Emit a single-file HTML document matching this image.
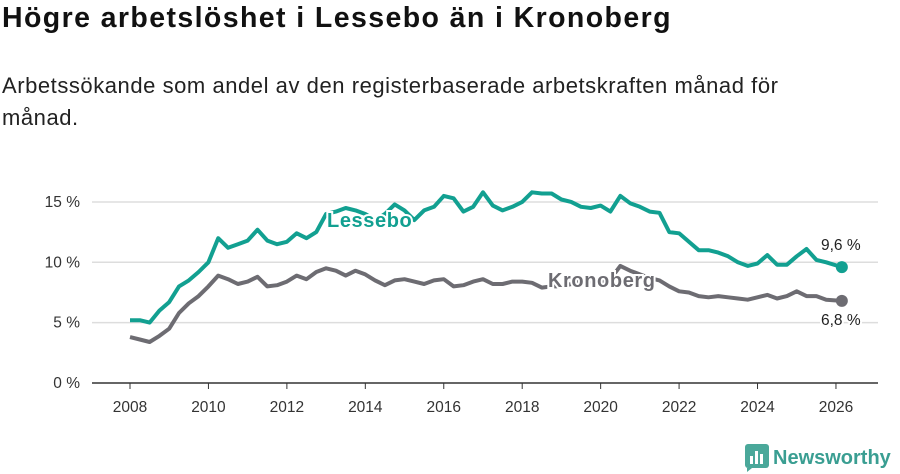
<!DOCTYPE html>
<html><head><meta charset="utf-8"><style>
body{margin:0;width:900px;height:474px;background:#fff;font-family:"Liberation Sans",sans-serif;overflow:hidden;position:relative}
h1{position:absolute;left:2px;top:2px;margin:0;font-size:28.5px;letter-spacing:1.4px;font-weight:bold;color:#111;white-space:nowrap}
p{position:absolute;left:2px;top:70px;margin:0;font-size:22px;letter-spacing:0.55px;line-height:32px;color:#222;width:840px}
svg{position:absolute;left:0;top:0}
</style></head><body>
<h1>Högre arbetslöshet i Lessebo än i Kronoberg</h1>
<p>Arbetssökande som andel av den registerbaserade arbetskraften månad för månad.</p>
<svg id="c" width="900" height="474"></svg>
<script>
const lessebo=[5.2,5.2,5.0,6.0,6.7,8.0,8.5,9.2,10.0,12.0,11.2,11.5,11.8,12.7,11.8,11.5,11.7,12.4,12.0,12.5,14.0,14.2,14.5,14.3,14.0,13.5,14.0,14.8,14.3,13.5,14.3,14.6,15.5,15.3,14.2,14.6,15.8,14.7,14.3,14.6,15.0,15.8,15.7,15.7,15.2,15.0,14.6,14.5,14.7,14.2,15.5,14.9,14.6,14.2,14.1,12.5,12.4,11.7,11.0,11.0,10.8,10.5,10.0,9.7,9.9,10.6,9.8,9.8,10.5,11.1,10.2,10.0,9.6];
const kronoberg=[3.8,3.6,3.4,3.9,4.5,5.8,6.6,7.2,8.0,8.9,8.6,8.2,8.4,8.8,8.0,8.1,8.4,8.9,8.6,9.2,9.5,9.3,8.9,9.3,9.0,8.5,8.1,8.5,8.6,8.4,8.2,8.5,8.6,8.0,8.1,8.4,8.6,8.2,8.2,8.4,8.4,8.3,7.9,8.0,8.0,8.2,8.5,8.4,8.4,8.6,9.7,9.3,9.0,8.7,8.5,8.0,7.6,7.5,7.2,7.1,7.2,7.1,7.0,6.9,7.1,7.3,7.0,7.2,7.6,7.2,7.2,6.9,6.8];
const yTicks=[0,5,10,15];
const xTicks=[2008,2010,2012,2014,2016,2018,2020,2022,2024,2026];
const endLabels=["9,6 %","6,8 %"];
const svg=document.getElementById('c');const NS='http://www.w3.org/2000/svg';
const X=t=>130+(t-2008)*39.22, Y=v=>383-v*12.07;
const dateOf=i=>i<72?2008+i/4:2026.15;
function el(tag,a,txt){const e=document.createElementNS(NS,tag);for(const k in a)e.setAttribute(k,a[k]);if(txt!=null)e.textContent=txt;svg.appendChild(e);return e;}
yTicks.forEach(v=>{
 const g=el('line',{x1:92,x2:878,y1:Y(v),y2:Y(v),stroke:v?'#dddddd':'#333','stroke-width':1.5});
 
 
 const t=el('text',{x:80,y:Y(v)+5,'text-anchor':'end','font-size':15.5,fill:'#333'},v+' %');
 
 
});
xTicks.forEach(y=>{
 const l=el('line',{x1:X(y),x2:X(y),y1:383,y2:389,stroke:'#333'});
 
 
 const t=el('text',{x:X(y),y:412,'text-anchor':'middle','font-size':15.5,fill:'#333'},y);
 
 
});
function line(data,col,name){
 const d=data.map((v,i)=>(i?'L':'M')+X(dateOf(i)).toFixed(1)+','+Y(v).toFixed(1)).join('');
 const p=el('path',{d:d,fill:'none',stroke:col,'stroke-width':4,'stroke-linejoin':'round'});
 
 
 const n=data.length-1;
 const c=el('circle',{cx:X(dateOf(n)),cy:Y(data[n]),r:6,fill:col});
 
 
}
line(kronoberg,'#6d6c72','kronoberg');
line(lessebo,'#12a091','lessebo');
function lab(x,y,txt,col,name,bold){
 const t=el('text',{x:x,y:y,'font-size':bold?20:15.5,'letter-spacing':bold?0.6:0,'font-weight':bold?'bold':'normal',fill:col,stroke:'#fff','stroke-width':4,'paint-order':'stroke'},txt);
 
 
}
lab(327,227,'Lessebo','#12a091','lessebo-label',true);
lab(548,287,'Kronoberg','#6d6c72','kronoberg-label',true);
lab(821,250,endLabels[0],'#222','lessebo-end-value',false);
lab(821,325,endLabels[1],'#222','kronoberg-end-value',false);
</script>
<div style="position:absolute;left:745px;top:444px;display:flex;align-items:center">
 <svg width="24" height="28" style="position:static"><rect x="0" y="0" width="24" height="24" rx="3" fill="#4aa89a"/><rect x="5" y="12" width="3" height="8" fill="#fff"/><rect x="10" y="7" width="3" height="13" fill="#fff"/><rect x="15" y="10" width="3" height="10" fill="#fff"/><path d="M2 24 L2 28 L7 24Z" fill="#4aa89a"/></svg>
 <span style="font-size:20px;color:#3a9e92;font-weight:bold;margin-left:4px">Newsworthy</span>
</div>
</body></html>
